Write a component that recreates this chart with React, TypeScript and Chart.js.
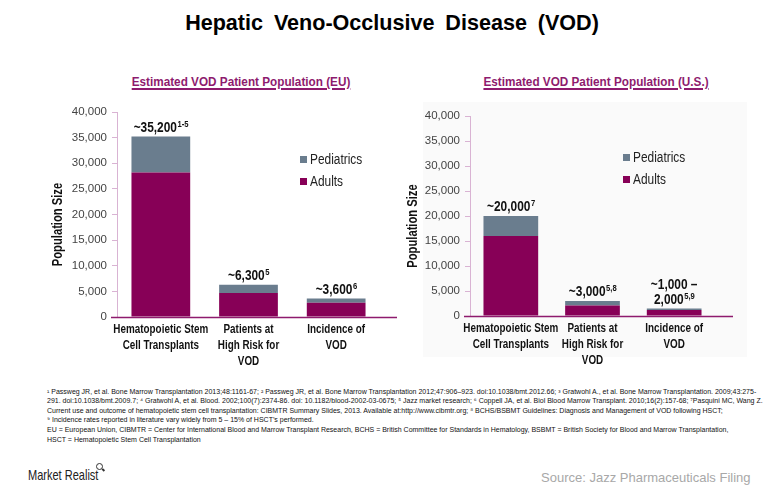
import React, { useEffect, useRef } from 'react';
import { Chart, registerables } from 'chart.js';

Chart.register(...registerables);

// ---------- DATA ----------
const categories: string[][] = [
  ['Hematopoietic Stem', 'Cell Transplants'],
  ['Patients at', 'High Risk for', 'VOD'],
  ['Incidence of', 'VOD'],
];
const seriesNames = ['Adults', 'Pediatrics'];
const euAdults = [28200, 4700, 2800];
const euPediatrics = [7000, 1600, 800];
const usAdults = [16000, 2100, 1200];
const usPediatrics = [4000, 900, 300];
const euTotalLabels: string[][] = [['~35,200'], ['~6,300'], ['~3,600']];
const euRefs = ['1-5', '5', '6'];
const usTotalLabels: string[][] = [['~20,000'], ['~3,000'], ['~1,000 –', '2,000']];
const usRefs = ['7', '5,8', '5,9'];
const yMin = 0;
const yMax = 40000;
const yStep = 5000;
const yAxisTitle = 'Population Size';

const footnotes = [
  '¹ Passweg JR, et al. Bone Marrow Transplantation 2013;48:1161-67; ² Passweg JR, et al. Bone Marrow Transplantation 2012;47:906–923. doi:10.1038/bmt.2012.66; ³ Gratwohl A., et al. Bone Marrow Transplantation. 2009;43:275-',
  '291. doi:10.1038/bmt.2009.7; ⁴ Gratwohl A, et al. Blood. 2002;100(7):2374-86. doi: 10.1182/blood-2002-03-0675; ⁵ Jazz market research; ⁶ Coppell JA, et al. Biol Blood Marrow Transplant. 2010;16(2):157-68; ⁷Pasquini MC, Wang Z.',
  'Current use and outcome of hematopoietic stem cell transplantation: CIBMTR Summary Slides, 2013. Available at:http://www.cibmtr.org; ⁸ BCHS/BSBMT Guidelines: Diagnosis and Management of VOD following HSCT;',
  '⁹ Incidence rates reported in literature vary widely from 5 – 15% of HSCT’s performed.',
  'EU = European Union, CIBMTR = Center for International Blood and Marrow Transplant Research, BCHS = British Committee for Standards in Hematology, BSBMT = British Society for Blood and Marrow Transplantation,',
  'HSCT = Hematopoietic Stem Cell Transplantation',
];

// ---------- STYLE ----------
const SANS = "'Liberation Sans', Arial, sans-serif";
const ADULT_COLOR = '#870057';
const PED_COLOR = '#6A7D8E';
const MAGENTA = '#8E1B6E';
const SX = 0.85; // horizontal condensing to mimic a narrow face

function drawScaled(ctx: CanvasRenderingContext2D, text: string, x: number, y: number, sx: number, align: CanvasTextAlign) {
  ctx.save();
  ctx.translate(x, y);
  ctx.scale(sx, 1);
  ctx.textAlign = align;
  ctx.fillText(text, 0, 0);
  ctx.restore();
}

const decorPlugin = {
  id: 'decor',
  afterDraw(chart: any, _args: any, opts: any) {
    const { ctx, chartArea } = chart;
    const yScale = chart.scales.y;
    const xScale = chart.scales.x;
    ctx.save();
    // x-axis line (extends beyond categories)
    ctx.strokeStyle = MAGENTA;
    ctx.lineWidth = 1.5;
    ctx.beginPath();
    ctx.moveTo(chartArea.left - 6, chartArea.bottom + 0.5);
    ctx.lineTo(chartArea.right + opts.axisExtend, chartArea.bottom + 0.5);
    ctx.stroke();

    // category labels
    ctx.fillStyle = '#111';
    ctx.font = `bold 13px ${SANS}`;
    ctx.textBaseline = 'middle';
    (chart.data.labels as string[][]).forEach((lines, i) => {
      const x = xScale.getPixelForValue(i);
      lines.forEach((line, li) => {
        drawScaled(ctx, line, x, chartArea.bottom + 12 + li * 16, 0.76, 'center');
      });
    });

    // y-axis title
    ctx.save();
    ctx.fillStyle = '#111';
    ctx.font = `bold 14px ${SANS}`;
    ctx.textAlign = 'center';
    ctx.textBaseline = 'middle';
    ctx.translate(chartArea.left + opts.titleDX, (chartArea.top + chartArea.bottom) / 2 + opts.titleDY);
    ctx.rotate(-Math.PI / 2);
    ctx.scale(0.8, 1);
    ctx.fillText(yAxisTitle, 0, 0);
    ctx.restore();

    // value labels with superscript refs
    const metaTop = chart.getDatasetMeta(chart.data.datasets.length - 1);
    const labels: string[][] = opts.totals;
    const refs: string[] = opts.refs;
    ctx.textBaseline = 'alphabetic';
    labels.forEach((lines, i) => {
      let total = 0;
      chart.data.datasets.forEach((ds: any) => (total += ds.data[i]));
      const topY = yScale.getPixelForValue(total);
      const cx = metaTop.data[i].x;
      const lineH = 15;
      lines.forEach((line, li) => {
        const isLast = li === lines.length - 1;
        const baseY = topY - 5 - (lines.length - 1 - li) * lineH;
        ctx.font = `bold 14px ${SANS}`;
        const w1 = ctx.measureText(line).width * SX;
        let w2 = 0;
        if (isLast) {
          ctx.font = `bold 9px ${SANS}`;
          w2 = ctx.measureText(refs[i]).width * SX;
        }
        const startX = cx - (w1 + w2) / 2;
        ctx.fillStyle = '#111';
        ctx.font = `bold 14px ${SANS}`;
        drawScaled(ctx, line, startX, baseY, SX, 'left');
        if (isLast) {
          ctx.font = `bold 9px ${SANS}`;
          drawScaled(ctx, refs[i], startX + w1 + 0.5, baseY - 5, SX, 'left');
        }
      });
    });

    // legend (top series first)
    const dsList = [...chart.data.datasets].reverse();
    dsList.forEach((ds: any, k: number) => {
      const y = chartArea.top + opts.legendDY + k * 22;
      const x = chartArea.right - opts.legendDX;
      ctx.fillStyle = ds.backgroundColor;
      ctx.fillRect(x, y - 4, 7, 7);
      ctx.fillStyle = '#222';
      ctx.font = `14px ${SANS}`;
      ctx.textBaseline = 'middle';
      drawScaled(ctx, ds.label, x + 10, y, SX, 'left');
    });
    ctx.restore();
  },
};

function makeConfig(adults: number[], peds: number[], totals: string[][], refs: string[], g: any) {
  return {
    type: 'bar' as const,
    data: {
      labels: categories,
      datasets: [
        { label: seriesNames[0], data: adults, backgroundColor: ADULT_COLOR, borderWidth: 0 },
        { label: seriesNames[1], data: peds, backgroundColor: PED_COLOR, borderWidth: 0 },
      ],
    },
    options: {
      responsive: false,
      animation: false as const,
      layout: { padding: { top: g.padTop, right: g.padRight, left: 0, bottom: 0 } },
      datasets: { bar: { categoryPercentage: 1, barPercentage: 0.67 } },
      plugins: {
        legend: { display: false },
        tooltip: { enabled: false },
        decor: {
          totals,
          refs,
          axisExtend: g.axisExtend,
          titleDX: g.titleDX,
          titleDY: 10,
          legendDX: g.legendDX,
          legendDY: g.legendDY,
        },
      },
      scales: {
        x: {
          stacked: true,
          grid: { display: false, drawTicks: false },
          border: { display: false },
          ticks: { display: false },
          afterFit: (s: any) => {
            s.height = g.xHeight;
          },
        },
        y: {
          stacked: true,
          min: yMin,
          max: yMax,
          grid: { drawOnChartArea: false, color: '#D9B3D3', tickLength: 5 },
          border: { color: '#D9B3D3', width: 1 },
          ticks: {
            stepSize: yStep,
            padding: 5,
            color: '#444',
            font: { family: SANS, size: 11.5 },
            callback: (v: any) => Number(v).toLocaleString('en-US'),
          },
          afterFit: (s: any) => {
            s.width = g.yWidth;
          },
        },
      },
    },
    plugins: [decorPlugin],
  };
}

function BarChart(props: { adults: number[]; peds: number[]; totals: string[][]; refs: string[]; g: any; w: number; h: number }) {
  const ref = useRef<HTMLCanvasElement | null>(null);
  useEffect(() => {
    if (!ref.current) return;
    const chart = new Chart(ref.current, makeConfig(props.adults, props.peds, props.totals, props.refs, props.g) as any);
    return () => chart.destroy();
  }, []);
  return <canvas ref={ref} width={props.w} height={props.h} style={{ width: props.w, height: props.h, display: 'block' }} />;
}

const abs = (left: number, top: number, extra: any = {}) => ({ position: 'absolute' as const, left, top, ...extra });

const subtitleStyle = {
  width: 260,
  textAlign: 'center',
  fontFamily: SANS,
  fontWeight: 'bold',
  fontSize: 13.5,
  lineHeight: '16px',
  color: MAGENTA,
  textDecoration: 'underline',
  textDecorationThickness: '2px',
  textUnderlineOffset: '2px',
  whiteSpace: 'nowrap',
  transform: 'scaleX(0.87)',
  transformOrigin: '50% 50%',
};

export default function App() {
  const euGeom = { padTop: 17, padRight: 25, yWidth: 97, xHeight: 58, axisExtend: 17, titleDX: -59, legendDX: 80, legendDY: 48 };
  const usGeom = { padTop: 21, padRight: 40, yWidth: 75, xHeight: 59, axisExtend: 18, titleDX: -57, legendDX: 92, legendDY: 42 };
  return (
    <div style={abs(0, 0, { width: 784, height: 499, background: '#fff', overflow: 'hidden', fontFamily: SANS })}>
      <div style={abs(0, 10, { width: 784, textAlign: 'center', fontFamily: SANS, fontWeight: 'bold', fontSize: 22, lineHeight: '26px', wordSpacing: 5, color: '#000', transform: 'scaleX(0.98)' })}>
        Hepatic Veno-Occlusive Disease (VOD)
      </div>
      <div style={abs(423, 102, { width: 324, height: 255, background: '#FAFAFA' })} />
      <div style={abs(241 - 130, 74, subtitleStyle)}>Estimated VOD Patient Population (EU)</div>
      <div style={abs(596 - 130, 74, subtitleStyle)}>Estimated VOD Patient Population (U.S.)</div>
      <div style={abs(20, 95)}>
        <BarChart adults={euAdults} peds={euPediatrics} totals={euTotalLabels} refs={euRefs} g={euGeom} w={385} h={280} />
      </div>
      <div style={abs(395, 95)}>
        <BarChart adults={usAdults} peds={usPediatrics} totals={usTotalLabels} refs={usRefs} g={usGeom} w={360} h={280} />
      </div>
      <div style={abs(47, 387, { fontFamily: SANS, fontSize: 7, color: '#111', whiteSpace: 'nowrap' })}>
        {footnotes.map((f, i) => (
          <div key={i} style={{ height: i === 4 ? 10.5 : 9.4, lineHeight: '9px' }}>{f}</div>
        ))}
      </div>
      <div style={abs(28, 466, { fontFamily: SANS, fontSize: 14.5, lineHeight: '18px', color: '#222', whiteSpace: 'nowrap', transform: 'scaleX(0.76)', transformOrigin: '0 50%' })}>
        Market Realist
      </div>
      <div style={abs(96, 463, { width: 5, height: 5, border: '1.5px solid #333', borderRadius: '50%' })} />
      <div style={abs(102, 469, { width: 3, height: 1.5, background: '#333', transform: 'rotate(45deg)' })} />
      <div style={abs(541, 469, { fontFamily: SANS, fontSize: 13, lineHeight: '18px', color: '#A8A8A8', whiteSpace: 'nowrap' })}>
        Source: Jazz Pharmaceuticals Filing
      </div>
    </div>
  );
}
